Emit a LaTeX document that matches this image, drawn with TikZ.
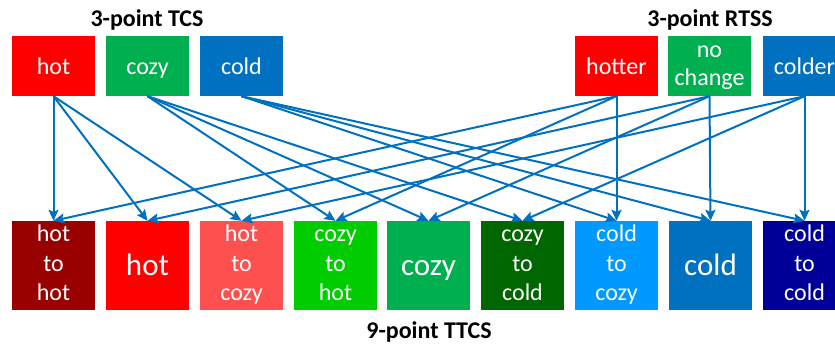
\documentclass[tikz,border=0pt]{standalone}
\usepackage{fontspec}
\setmainfont{Carlito}
\usetikzlibrary{arrows.meta}
\definecolor{cred}{HTML}{FF0000}
\definecolor{cgreen}{HTML}{00B050}
\definecolor{cblue}{HTML}{0070C0}
\definecolor{chh}{HTML}{990000}
\definecolor{chc}{HTML}{FF5050}
\definecolor{czh}{HTML}{00CC00}
\definecolor{czc}{HTML}{006600}
\definecolor{ccz}{HTML}{0099FF}
\definecolor{ccc}{HTML}{000099}
\newcommand{\Ln}[1]{\strut #1}
\begin{document}
\begin{tikzpicture}[x=1pt,y=-1pt,
  box/.style={draw=none,fill=#1,text=white,minimum width=83pt,inner sep=0pt,align=center},
  topbox/.style={box=#1,minimum height=60pt,font=\fontsize{24}{27.7}\selectfont},
  topone/.style={topbox=#1,text height=18pt,text depth=2pt},
  botbox/.style={box=#1,minimum height=89pt,font=\fontsize{24}{29.5}\selectfont},
  bigbox/.style={box=#1,minimum height=89pt,font=\fontsize{31}{36}\selectfont,text height=22pt,text depth=2pt},
  title/.style={font=\fontsize{24}{28}\selectfont\bfseries,inner sep=0pt,anchor=base},
  link/.style={draw=cblue,line width=2pt,-{Stealth[length=11pt,width=10pt,inset=2pt]}}]
\useasboundingbox (0,0) rectangle (835,346);
% titles
\node[title] (tcs) at (147,26) {3-point TCS};
\node[title] (rtss) at (710,26) {3-point RTSS};
\node[title] (ttcs) at (429,338) {9-point TTCS};
% top row
\node[topone=cred] (t1) at (53.5,66) {hot};
\node[topone=cgreen] (t2) at (147.5,66) {cozy};
\node[topone=cblue] (t3) at (241.5,66) {cold};
\node[topone=cred] (r1) at (616.5,66) {hotter};
\node[topbox=cgreen] (r2) at (709.5,66) {\Ln{no}\\\Ln{change}};
\node[topone=cblue] (r3) at (804.5,66) {colder};
% bottom row
\node[botbox=chh] (b1) at (53.5,265.5) {\Ln{hot}\\\Ln{to}\\\Ln{hot}};
\node[bigbox=cred] (b2) at (147.5,265.5) {hot};
\node[botbox=chc] (b3) at (241.5,265.5) {\Ln{hot}\\\Ln{to}\\\Ln{cozy}};
\node[botbox=czh] (b4) at (335.5,265.5) {\Ln{cozy}\\\Ln{to}\\\Ln{hot}};
\node[bigbox=cgreen] (b5) at (428.5,265.5) {cozy};
\node[botbox=czc] (b6) at (522.5,265.5) {\Ln{cozy}\\\Ln{to}\\\Ln{cold}};
\node[botbox=ccz] (b7) at (616.5,265.5) {\Ln{cold}\\\Ln{to}\\\Ln{cozy}};
\node[bigbox=cblue] (b8) at (710.5,265.5) {cold};
\node[botbox=ccc] (b9) at (804.5,265.5) {\Ln{cold}\\\Ln{to}\\\Ln{cold}};
% connectors
\foreach \s/\d in {t1/b1,t1/b2,t1/b3,t2/b4,t2/b5,t2/b6,t3/b7,t3/b8,t3/b9,
                   r1/b1,r1/b4,r1/b7,r2/b2,r2/b5,r2/b8,r3/b3,r3/b6,r3/b9}
  \draw[link] (\s.south) -- (\d.north);
\end{tikzpicture}
\end{document}
